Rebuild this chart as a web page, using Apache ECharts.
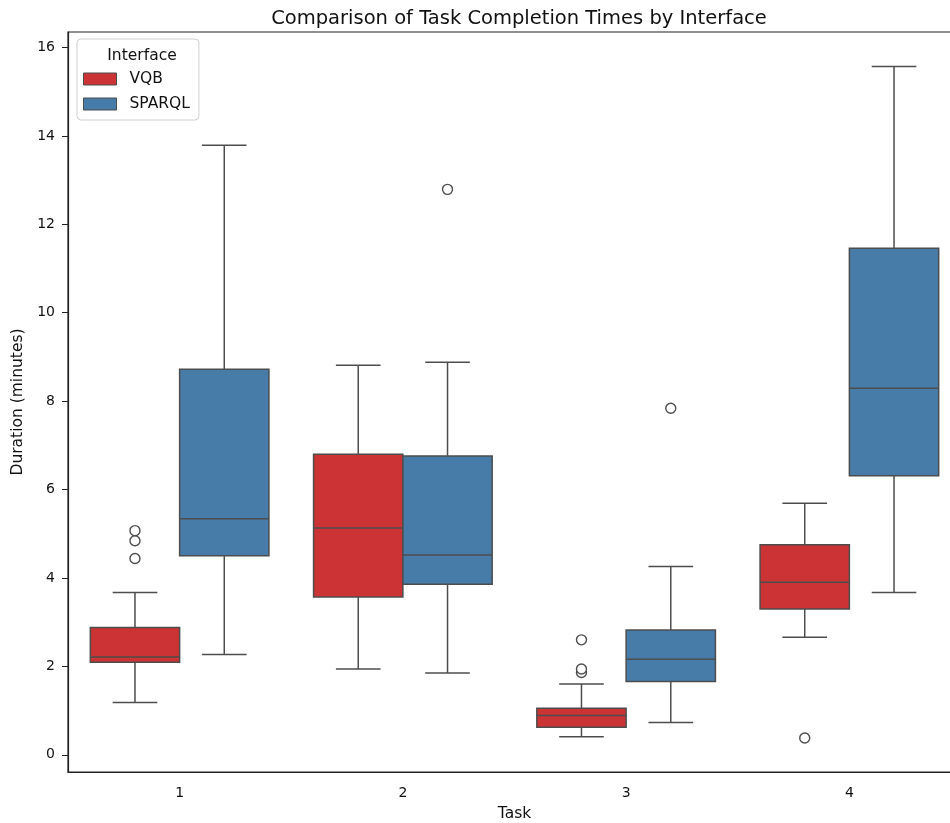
<!DOCTYPE html>
<html lang="en">
<head>
    <meta charset="UTF-8">
    <title>Task Completion Times</title>
</head>
<body style="margin:0">
    <div id="card" style="width: 950px;height:823px;"></div>
    <script src="https://cdn.jsdelivr.net/npm/echarts@6/dist/echarts.min.js"></script>
    <script>
        var tasks = ['1', '2', '3', '4'];
        var interfaces = ['VQB', 'SPARQL'];
        // [lower whisker, Q1, median, Q3, upper whisker] per task
        var vqbStats = [
            [1.18, 2.09, 2.21, 2.88, 3.67],
            [1.94, 3.57, 5.13, 6.80, 8.81],
            [0.41, 0.62, 0.89, 1.05, 1.60],
            [2.66, 3.30, 3.90, 4.75, 5.69]
        ];
        var sparqlStats = [
            [2.27, 4.50, 5.34, 8.72, 13.79],
            [1.85, 3.86, 4.52, 6.76, 8.88],
            [0.73, 1.66, 2.16, 2.82, 4.26],
            [3.67, 6.31, 8.29, 11.46, 15.57]
        ];
        // [task index, value]
        var vqbOutliers = [[0, 4.44], [0, 4.84], [0, 5.07], [2, 1.86], [2, 1.94], [2, 2.60], [3, 0.38]];
        var sparqlOutliers = [[1, 12.79], [2, 7.84]];

        var colors = ['#cb3335', '#477ca8'];
        var lineColor = '#4d4d4d';
        var font = 'DejaVu Sans';

        function boxData(stats) {
            return stats.map(function (s, i) { return [i].concat(s); });
        }

        function renderBox(side) {
            return function (params, api) {
                var cat = api.value(0);
                var band = api.size([1, 0])[0];
                var w = band * 0.4;
                var cx = api.coord([cat, 0])[0] + side * w / 2;
                var yMin = api.coord([cat, api.value(1)])[1];
                var yQ1 = api.coord([cat, api.value(2)])[1];
                var yMed = api.coord([cat, api.value(3)])[1];
                var yQ3 = api.coord([cat, api.value(4)])[1];
                var yMax = api.coord([cat, api.value(5)])[1];
                var ls = { stroke: lineColor, lineWidth: 1.5 };
                return {
                    type: 'group',
                    children: [
                        { type: 'line', shape: { x1: cx, y1: yQ3, x2: cx, y2: yMax }, style: ls },
                        { type: 'line', shape: { x1: cx, y1: yQ1, x2: cx, y2: yMin }, style: ls },
                        { type: 'line', shape: { x1: cx - w / 4, y1: yMax, x2: cx + w / 4, y2: yMax }, style: ls },
                        { type: 'line', shape: { x1: cx - w / 4, y1: yMin, x2: cx + w / 4, y2: yMin }, style: ls },
                        { type: 'rect', shape: { x: cx - w / 2, y: yQ3, width: w, height: yQ1 - yQ3 },
                          style: { fill: api.visual('color'), stroke: lineColor, lineWidth: 1.5 } },
                        { type: 'line', shape: { x1: cx - w / 2, y1: yMed, x2: cx + w / 2, y2: yMed }, style: ls }
                    ]
                };
            };
        }

        function renderFlier(side) {
            return function (params, api) {
                var cat = api.value(0);
                var band = api.size([1, 0])[0];
                var p = api.coord([cat, api.value(1)]);
                return {
                    type: 'circle',
                    shape: { cx: p[0] + side * band * 0.2, cy: p[1], r: 5 },
                    style: { fill: '#fff', stroke: lineColor, lineWidth: 1.4 }
                };
            };
        }

        var option = {
            backgroundColor: '#fff',
            animation: false,
            title: [{
                text: 'Comparison of Task Completion Times by Interface',
                left: 514, top: 4, textAlign: 'center',
                textStyle: { fontFamily: font, fontSize: 19.5, fontWeight: 'normal', color: '#111' }
            }, {
                text: 'Interface',
                left: 137, top: 43, textAlign: 'center',
                textStyle: { fontFamily: font, fontSize: 15.5, fontWeight: 'normal', color: '#111' }
            }],
            legend: {
                data: interfaces,
                orient: 'vertical',
                left: 77, top: 39,
                padding: [32, 9, 8, 6],
                itemGap: 9,
                itemWidth: 33, itemHeight: 12,
                icon: 'rect',
                borderColor: '#d0d0d0', borderWidth: 1, borderRadius: 4,
                itemStyle: { borderColor: lineColor, borderWidth: 1 },
                textStyle: { fontFamily: font, fontSize: 15.5, color: '#111', padding: [0, 0, 0, 8] }
            },
            grid: {
                left: 68, top: 32, width: 893, bottom: 51,
                outerBoundsMode: 'none',
                show: true, borderColor: '#222', borderWidth: 1.2
            },
            xAxis: {
                type: 'category',
                data: tasks,
                name: 'Task', nameLocation: 'middle', nameGap: 34,
                nameTextStyle: { fontFamily: font, fontSize: 15.5, color: '#111' },
                axisLine: { onZero: false, lineStyle: { color: '#222', width: 1.2 } },
                axisTick: { alignWithLabel: true, length: 6, lineStyle: { color: '#222' } },
                axisLabel: { fontFamily: font, fontSize: 14, color: '#111', margin: 14 },
                splitLine: { show: false }
            },
            yAxis: {
                type: 'value',
                min: -0.39, max: 16.35, splitNumber: 8,
                name: 'Duration (minutes)', nameLocation: 'middle', nameGap: 36,
                nameTextStyle: { fontFamily: font, fontSize: 15.5, color: '#111' },
                axisLine: { show: true, lineStyle: { color: '#222', width: 1.2 } },
                axisTick: { show: true, length: 6, lineStyle: { color: '#222' } },
                axisLabel: { fontFamily: font, fontSize: 14, color: '#111', margin: 13,
                    showMinLabel: false, showMaxLabel: false },
                splitLine: { show: false }
            },
            series: [{
                name: 'VQB', type: 'custom',
                renderItem: renderBox(-1),
                itemStyle: { color: colors[0] },
                encode: { x: 0, y: [1, 2, 3, 4, 5] },
                data: boxData(vqbStats)
            }, {
                name: 'SPARQL', type: 'custom',
                renderItem: renderBox(1),
                itemStyle: { color: colors[1] },
                encode: { x: 0, y: [1, 2, 3, 4, 5] },
                data: boxData(sparqlStats)
            }, {
                type: 'custom',
                renderItem: renderFlier(-1),
                encode: { x: 0, y: 1 },
                data: vqbOutliers
            }, {
                type: 'custom',
                renderItem: renderFlier(1),
                encode: { x: 0, y: 1 },
                data: sparqlOutliers
            }]
        };

        var myChart = echarts.init(document.querySelector('#card'));
        myChart.setOption(option);
    </script>
</body>
</html>
